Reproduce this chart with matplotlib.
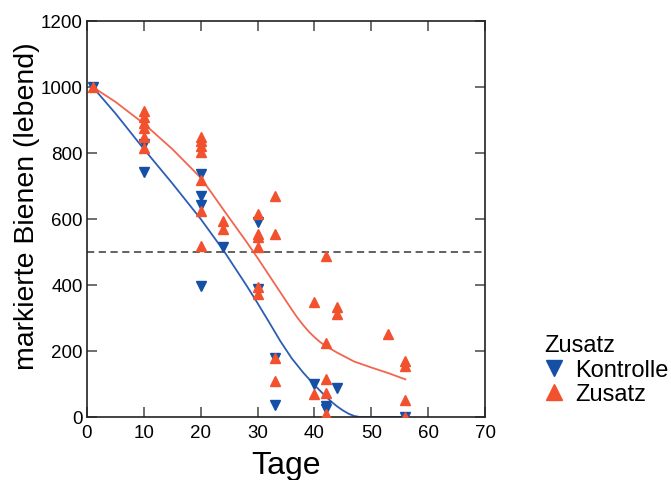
import matplotlib.pyplot as plt
from matplotlib.lines import Line2D

plt.rcParams['font.family'] = ['Liberation Sans', 'DejaVu Sans']

# Kontrolle (blue, down triangles)
kontrolle_tage = [1, 10, 10, 20, 20, 20, 20, 24, 30, 30, 33, 33, 40, 42, 42, 44, 56]
kontrolle_bienen = [1000, 828, 742, 737, 671, 641, 397, 514, 590, 388, 180, 35, 99, 33, 23, 89, 0]

# Zusatz (red, up triangles)
zusatz_tage = [1, 10, 10, 10, 10, 10, 10, 20, 20, 20, 20, 20, 20, 20,
               24, 24, 30, 30, 30, 30, 30, 30, 33, 33, 33, 33,
               40, 40, 42, 42, 42, 42, 42, 42, 44, 44, 53, 56, 56, 56, 56]
zusatz_bienen = [1000, 928, 908, 892, 876, 850, 815, 850, 835, 820, 802, 717, 625, 519,
                 595, 570, 614, 555, 545, 514, 393, 372, 671, 555, 180, 110,
                 347, 70, 489, 225, 114, 74, 8, 0, 332, 312, 251, 170, 154, 53, 0]

# smoothed trend lines
kurve_k_tage = [1, 5, 10, 15, 20, 24, 28, 30, 32, 34, 36, 38, 40, 42, 43, 44, 45, 46, 47, 48, 52, 56]
kurve_k_bienen = [1000, 920, 812, 708, 600, 505, 400, 345, 288, 230, 178, 135, 97, 62, 46, 32, 20, 10, 3, 0, 0, 0]
kurve_z_tage = [1, 5, 10, 15, 20, 22, 24, 26, 28, 30, 32, 34, 36, 37, 38, 39, 40, 41, 42, 44, 47, 50, 53, 56]
kurve_z_bienen = [1000, 955, 889, 812, 725, 677, 628, 580, 532, 482, 430, 378, 326, 301, 279, 259, 242, 227, 215, 195, 168, 150, 133, 114]

blau = '#1650a6'
rot = '#f2512e'

fig = plt.figure(figsize=(6.71, 4.81), dpi=100)
ax = fig.add_axes([87 / 671, 1 - 418 / 481, 398 / 671, 396 / 481])

ax.axhline(500, color='#555555', linestyle=(0, (4, 2.5)), linewidth=1.3, zorder=1)
ax.plot(kurve_k_tage, kurve_k_bienen, color='#2d5db5', linewidth=1.3, zorder=2)
ax.plot(kurve_z_tage, kurve_z_bienen, color='#f2654f', linewidth=1.3, zorder=2)
ax.plot(kontrolle_tage, kontrolle_bienen, 'v', color=blau, markersize=7, linestyle='none', zorder=3)
ax.plot(zusatz_tage, zusatz_bienen, '^', color=rot, markersize=7, linestyle='none', zorder=3)

ax.set_xlim(0, 70)
ax.set_ylim(0, 1200)
ax.set_xticks(range(0, 71, 10))
ax.set_yticks(range(0, 1201, 200))
ax.tick_params(direction='in', top=True, right=True, length=7, width=1.2,
               color='#555555', labelsize=13.5, pad=3)
ax.tick_params(axis='x', pad=5)
for s in ax.spines.values():
    s.set_color('#222222')
    s.set_linewidth(1.2)

fig.text(27 / 671, 1 - 206 / 481, 'markierte Bienen (lebend)', rotation=90,
         ha='center', va='center', fontsize=20.5)
fig.text(286 / 671, 1 - 451 / 481, 'Tage', ha='center', va='top', fontsize=23)

handles = [Line2D([], [], marker='v', color=blau, linestyle='none', markersize=12),
           Line2D([], [], marker='^', color=rot, linestyle='none', markersize=12)]
leg = fig.legend(handles, ['Kontrolle', 'Zusatz'], title='Zusatz', loc='upper left',
                 bbox_to_anchor=(535 / 671, 1 - 326 / 481), frameon=False,
                 fontsize=17, title_fontsize=17, alignment='left',
                 handlelength=0.8, handletextpad=0.5, labelspacing=0.1, borderaxespad=0)

fig.savefig('out.png', dpi=100)
